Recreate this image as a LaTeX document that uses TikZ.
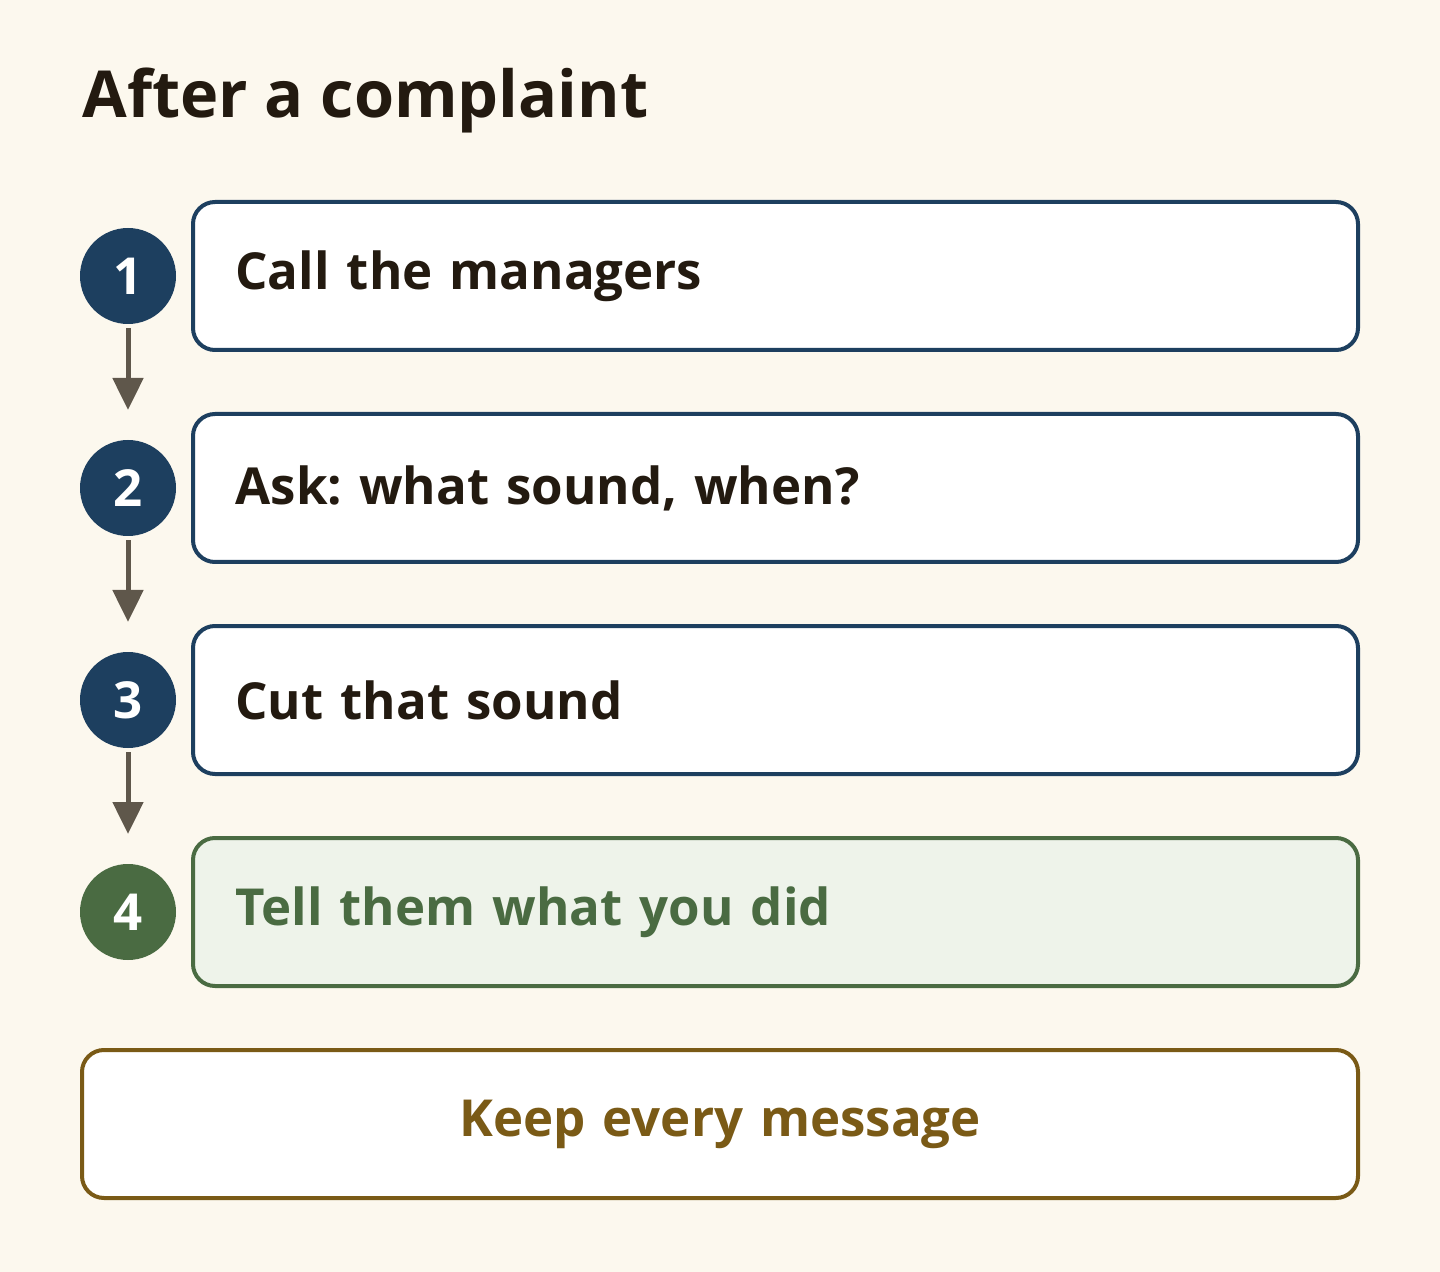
\documentclass[tikz,border=0pt]{standalone}
\usepackage{fontspec}
\setmainfont{Open Sans}
\usetikzlibrary{arrows.meta}
\definecolor{bg}{HTML}{FCF8EE}
\definecolor{navy}{HTML}{1D3F5F}
\definecolor{grn}{HTML}{4A6B42}
\definecolor{grnfill}{HTML}{EEF3EA}
\definecolor{brn}{HTML}{7A5A16}
\definecolor{ink}{HTML}{231A10}
\definecolor{arr}{HTML}{5F574B}
\frenchspacing
\tikzset{
  stepbox/.style={draw=navy, fill=white, line width=2pt, rounded corners=11pt,
    outer sep=0pt, minimum width=582.5pt, minimum height=74pt, anchor=north west,
    text width=540pt, align=left, inner xsep=18pt,
    font=\fontsize{25.5}{30}\selectfont\bfseries, text=ink},
  lastbox/.style={stepbox, draw=grn, fill=grnfill, text=grn},
  notebox/.style={stepbox, draw=brn, minimum width=638pt, text width=600pt, align=center, text=brn},
  num/.style={circle, fill=navy, minimum size=48pt, inner sep=0pt, text=white,
    font=\fontsize{25.5}{30}\selectfont\bfseries},
  flow/.style={draw=arr, line width=2.5pt, -{Triangle[length=16pt,width=15pt]}, shorten >=-1pt}
}
\begin{document}
\begin{tikzpicture}[x=0.5pt,y=-0.5pt]
\fill[bg] (0,0) rectangle (1440,1272);
\useasboundingbox (0,0) rectangle (1440,1272);
\node[anchor=base west, inner sep=0pt, font=\fontsize{32.4}{40}\selectfont\bfseries, text=ink] (title) at (82,118) {After a complaint};
\node[stepbox] (b1) at (193,202) {Call the managers};
\node[stepbox] (b2) at (193,414) {Ask: what sound, when?};
\node[stepbox] (b3) at (193,626) {Cut that sound};
\node[lastbox] (b4) at (193,838) {Tell them what you did};
\node[notebox] (b5) at (82,1050) {Keep every message};
\node[num] (n1) at (128,276) {1};
\node[num] (n2) at (128,488) {2};
\node[num] (n3) at (128,700) {3};
\node[num, fill=grn] (n4) at (128,912) {4};
\coordinate (e1) at (128,408);
\coordinate (e2) at (128,620);
\coordinate (e3) at (128,832);
\draw[flow] ([yshift=-2pt]n1.south) -- (e1);
\draw[flow] ([yshift=-2pt]n2.south) -- (e2);
\draw[flow] ([yshift=-2pt]n3.south) -- (e3);
\end{tikzpicture}
\end{document}
